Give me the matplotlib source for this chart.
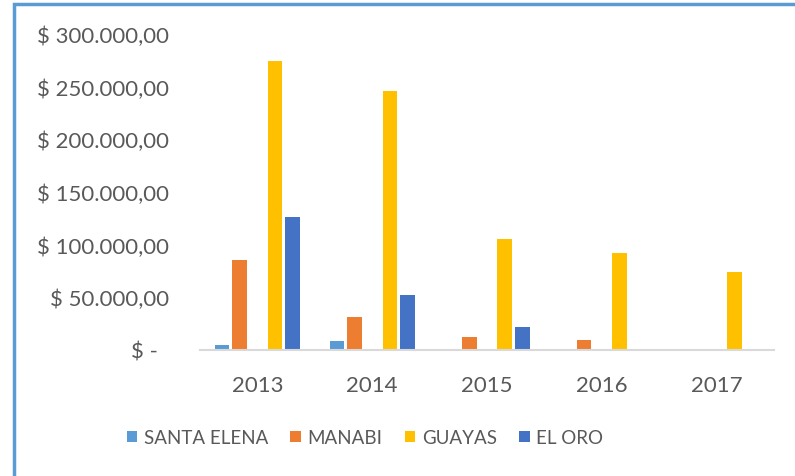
import numpy as np
import matplotlib
matplotlib.use("Agg")
import matplotlib.pyplot as plt
from matplotlib.patches import Rectangle
from matplotlib.ticker import FuncFormatter

# data
years = ["2013", "2014", "2015", "2016", "2017"]
santa_elena = [4500, 8200, 0, 0, 0]
manabi = [85400, 31000, 12000, 9200, 0]
guayas = [274800, 245900, 105700, 91800, 74100]
el_oro = [126000, 52500, 21800, 0, 0]

series_names = ["SANTA ELENA", "MANABI", "GUAYAS", "EL ORO"]
series_vals = [santa_elena, manabi, guayas, el_oro]
colors = ["#5B9BD5", "#ED7D31", "#FFC000", "#4472C4"]
# slot positions inside each group (middle slot is empty in the original)
slots = [-2, -1, 1, 2]

plt.rcParams['font.family'] = ['Lato', 'DejaVu Sans']
text_color = "#595959"

fig = plt.figure(figsize=(7.95, 4.77), dpi=100)
ax = fig.add_axes([0.2516, 0.2642, 0.7220, 0.6624])

x = np.arange(len(years))
pitch = 0.154
width = 0.127
for name, vals, c, s in zip(series_names, series_vals, colors, slots):
    ax.bar(x + s * pitch, vals, width, color=c, label=name)

ax.set_xlim(-0.5, 4.5)
ax.set_ylim(0, 300000)
ax.set_yticks(np.arange(0, 300001, 50000))


def money(v, pos):
    if v == 0:
        return "$ -  "
    s = f"{v:,.2f}".replace(",", "X").replace(".", ",").replace("X", ".")
    return "$ " + s


ax.yaxis.set_major_formatter(FuncFormatter(money))
ax.set_xticks(x)
ax.set_xticklabels(years)
ax.tick_params(axis="y", length=0, pad=22, labelsize=16, labelcolor=text_color)
ax.tick_params(axis="x", length=0, pad=18, labelsize=16, labelcolor=text_color)

for sp in ["top", "right", "left"]:
    ax.spines[sp].set_visible(False)
ax.spines["bottom"].set_color("#D9D9D9")
ax.spines["bottom"].set_linewidth(1.5)

leg = fig.legend(loc="center", bbox_to_anchor=(0.459, 0.0797), ncol=4, frameon=False,
                 prop={"size": 13.5}, handlelength=0.55, handleheight=0.55,
                 handletextpad=0.35, columnspacing=1.2, labelcolor=text_color)

# blue frame visible on top and left
fig.add_artist(Rectangle((0.017, -0.5), 1.5, 1.4885, transform=fig.transFigure,
                         fill=False, edgecolor="#5B9BD5", linewidth=2.5))

fig.savefig("out.png", dpi=100)
